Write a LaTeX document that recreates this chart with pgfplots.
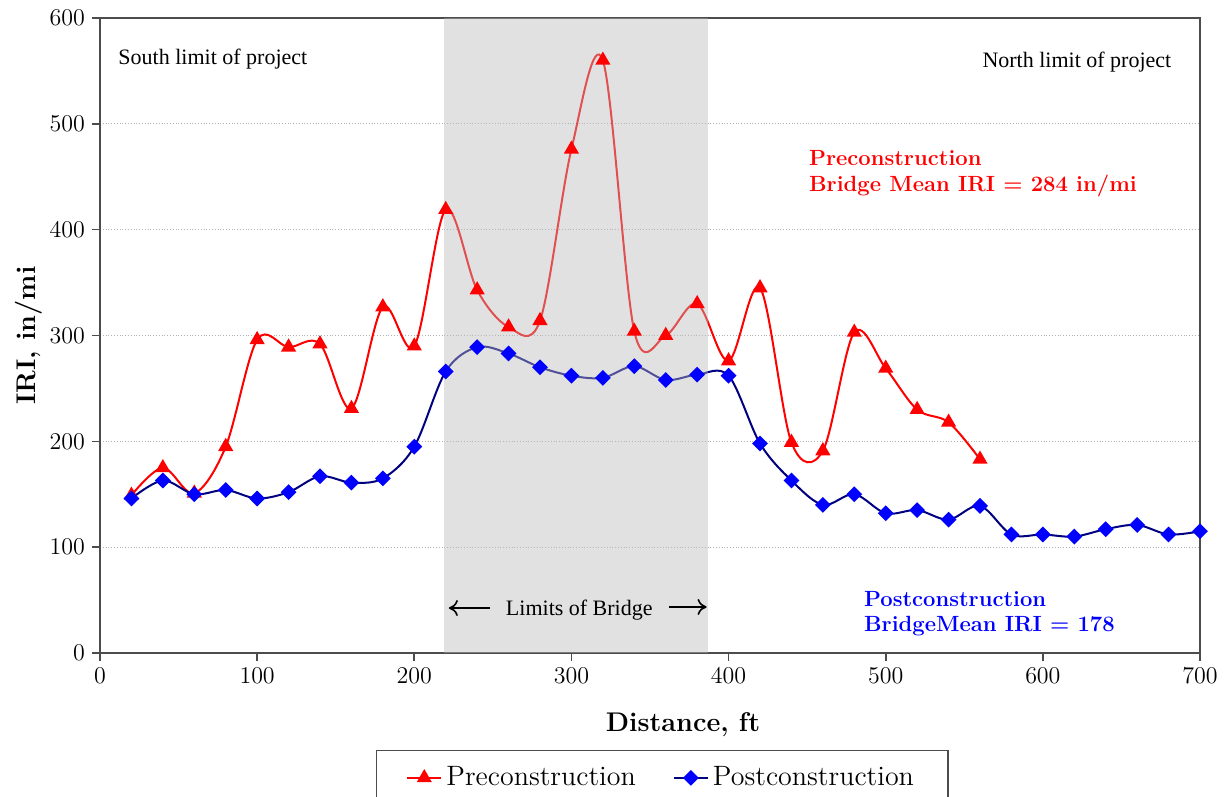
\documentclass[border=0pt]{standalone}
\usepackage{fontspec}
\usepackage{pgfplots}
\pgfplotsset{compat=1.18}
\usetikzlibrary{arrows.meta}
\newfontfamily\timesf{Liberation Serif}
\definecolor{navy}{RGB}{0,0,128}
\begin{document}
\begin{tikzpicture}
\begin{axis}[name=ax, scale only axis, width=550pt, height=317.5pt,
 xmin=0, xmax=700, ymin=0, ymax=600,
 xtick={0,100,...,700}, ytick={0,100,...,600},
 xtick pos=bottom, ytick pos=left,
 tick align=outside, major tick length=4pt,
 tick style={gray!60!black, line width=0.8pt},
 axis line style={gray!60!black, line width=0.8pt},
 ymajorgrids, grid style={densely dotted, gray!60, line width=0.4pt},
 tick label style={font=\fontsize{11.5}{13}\selectfont},
 xlabel={\bfseries Distance, ft}, ylabel={\bfseries IRI, in/mi},
 label style={font=\fontsize{13.5}{15}\selectfont},
 xlabel style={at={(axis description cs:0.53,-0.113)}, anchor=center},
 ylabel style={at={(axis description cs:-0.065,0.5)}, anchor=center},
 legend columns=2,
 legend style={at={(0.511,-0.153)}, anchor=north, draw=gray!60!black, line width=0.6pt,
   font=\fontsize{14}{16}\selectfont, inner xsep=15pt, inner ysep=6pt,
   /tikz/every even column/.append style={column sep=16.5pt}},
]
\addplot[red, line width=1pt, smooth, tension=0.55, mark=triangle*, mark size=3.4pt, mark options={solid, fill=red}] coordinates {
(20,149)(40,175)(60,151)(80,195)(100,296)(120,289)(140,292)(160,231)(180,327)(200,290)
(220,419)(240,343)(260,308)(280,314)(300,476)(320,560)(340,304)(360,300)(380,330)(400,276)
(420,345)(440,199)(460,191)(480,303)(500,269)(520,230)(540,218)(560,183)};
\addlegendentry{Preconstruction}
\addplot[navy, line width=1pt, smooth, tension=0.55, mark=square*, mark size=2.3pt, mark options={solid, draw=blue, fill=blue, rotate=45}] coordinates {
(20,146)(40,163)(60,150)(80,154)(100,146)(120,152)(140,167)(160,161)(180,165)(200,195)
(220,266)(240,289)(260,283)(280,270)(300,262)(320,260)(340,271)(360,258)(380,263)(400,262)
(420,198)(440,163)(460,140)(480,150)(500,132)(520,135)(540,126)(560,139)(580,112)(600,112)
(620,110)(640,117)(660,121)(680,112)(700,115)};
\addlegendentry{Postconstruction}
\fill[black!27, opacity=0.43] (axis cs:219,0) rectangle (axis cs:387,600);
\node[anchor=west, inner sep=0pt, font=\timesf\fontsize{11}{12}\selectfont] at (axis cs:11.5,561) {South limit of project};
\node[anchor=east, inner sep=0pt, font=\timesf\fontsize{11}{12}\selectfont] at (axis cs:682,558) {North limit of project};
\node[anchor=center, inner sep=0pt, font=\timesf\fontsize{11}{12}\selectfont] at (axis cs:305,40.5) {Limits of Bridge};
\draw[-{To[length=4.5pt,width=8pt]}, line width=0.8pt] (axis cs:248,42.5) -- (axis cs:222,42.5);
\draw[-{To[length=4.5pt,width=8pt]}, line width=0.8pt] (axis cs:362,43.5) -- (axis cs:386,43.5);
\node[anchor=west, inner sep=0pt, align=left, red, font=\bfseries\fontsize{11}{12.8}\selectfont] at (axis cs:451,453) {Preconstruction\\Bridge Mean IRI = 284 in/mi};
\node[anchor=west, inner sep=0pt, align=left, blue, font=\bfseries\fontsize{11}{12.8}\selectfont] at (axis cs:486,37) {Postconstruction\\BridgeMean IRI = 178};
\end{axis}
\pgfresetboundingbox
\path ([xshift=-50pt,yshift=-71.5pt]ax.south west) rectangle ([xshift=13pt,yshift=9pt]ax.north east);
\end{tikzpicture}
\end{document}
